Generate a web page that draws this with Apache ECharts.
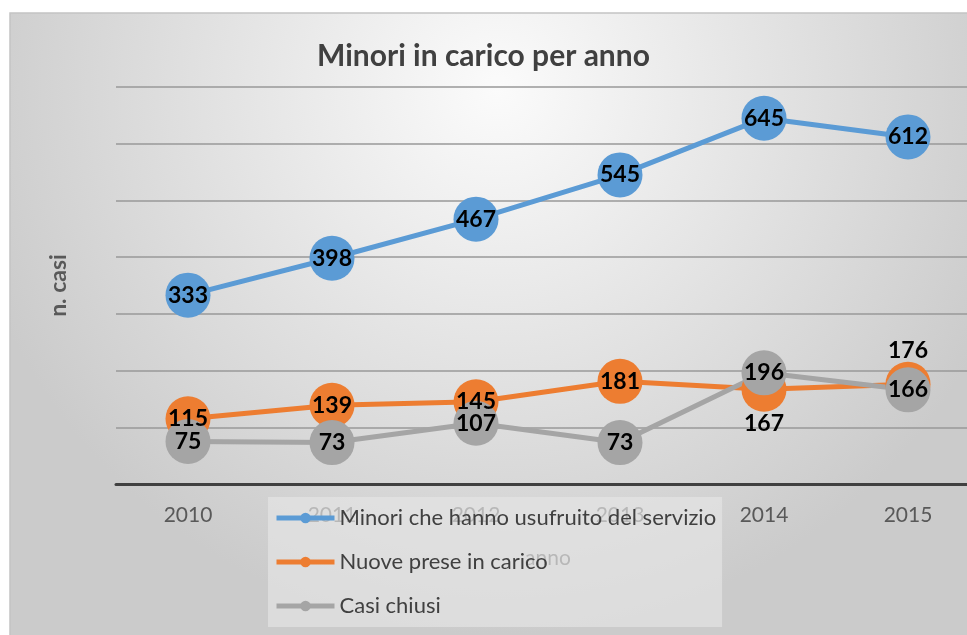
<!DOCTYPE html>
<html>
<head>
<meta charset="utf-8">
<script src="https://cdn.jsdelivr.net/npm/echarts@6/dist/echarts.min.js"></script>
<style>
html,body{margin:0;padding:0;background:#fff;}
#main{width:967px;height:635px;}
</style>
</head>
<body>
<div id="main"></div>
<script>
// dati
var anni = ['2010', '2011', '2012', '2013', '2014', '2015'];
var minoriServizio = [333, 398, 467, 545, 645, 612];
var nuovePrese = [115, 139, 145, 181, 167, 176];
var casiChiusi = [75, 73, 107, 73, 196, 166];
var nomiSerie = ['Minori che hanno usufruito del servizio', 'Nuove prese in carico', 'Casi chiusi'];

var font = 'Lato, "Open Sans", sans-serif';

function serie(nome, valori, colore, posizioni) {
    return {
        name: nome,
        type: 'line',
        data: valori.map(function (v, i) {
            var p = posizioni ? posizioni[i] : 'inside';
            return { value: v, label: { position: p, distance: 0 } };
        }),
        symbol: 'circle',
        symbolSize: 45,
        lineStyle: { width: 5, color: colore },
        itemStyle: { color: colore },
        label: {
            show: true,
            color: '#000',
            fontFamily: font,
            fontWeight: 'bold',
            fontSize: 23
        }
    };
}

var myChart = echarts.init(document.getElementById('main'));
myChart.setOption({
    backgroundColor: '#fff',
    animation: false,
    graphic: [{
        type: 'rect',
        z: -100,
        shape: { x: 10, y: 13, width: 975, height: 640 },
        style: {
            fill: {
                type: 'radial', x: 0.5, y: 0.12, r: 0.85,
                colorStops: [
                    { offset: 0, color: '#fbfbfb' },
                    { offset: 1, color: '#cbcbcb' }
                ]
            },
            stroke: '#c4c4c4',
            lineWidth: 1.5
        }
    }],
    title: {
        text: 'Minori in carico per anno',
        left: 'center',
        top: 36,
        textStyle: { fontFamily: font, fontSize: 30, fontWeight: 'bold', color: '#404040' }
    },
    legend: {
        data: nomiSerie,
        orient: 'vertical',
        left: 268,
        top: 497,
        z: 10,
        padding: [10, 6, 10, 6],
        itemWidth: 58,
        itemHeight: 13,
        itemGap: 22,
        lineStyle: { width: 5 },
        backgroundColor: 'rgba(228,228,228,0.68)',
        textStyle: { fontFamily: font, fontSize: 22, color: '#404040' }
    },
    grid: {
        left: 116,
        right: -13,
        top: 87,
        bottom: 151,
        containLabel: false,
        outerBoundsMode: 'none'
    },
    xAxis: {
        type: 'category',
        data: anni,
        name: 'anno',
        nameLocation: 'middle',
        nameGap: 64,
        nameTextStyle: { fontFamily: font, fontSize: 21, color: '#595959' },
        axisLine: { lineStyle: { color: '#404040', width: 3 } },
        axisTick: { show: false },
        axisLabel: { fontFamily: font, fontSize: 21, color: '#595959', margin: 21 }
    },
    yAxis: {
        type: 'value',
        min: 0,
        max: 700,
        interval: 100,
        name: 'n. casi',
        nameLocation: 'middle',
        nameGap: 46,
        nameRotate: 90,
        nameTextStyle: { fontFamily: font, fontSize: 23, fontWeight: 'bold', color: '#595959' },
        axisLabel: { show: false },
        axisLine: { show: false },
        axisTick: { show: false },
        splitLine: { lineStyle: { color: '#999999', width: 1.5 } }
    },
    series: [
        serie(nomiSerie[0], minoriServizio, '#5B9BD5'),
        serie(nomiSerie[1], nuovePrese, '#ED7D31', ['inside', 'inside', 'inside', 'inside', 'bottom', 'top']),
        serie(nomiSerie[2], casiChiusi, '#A5A5A5')
    ]
});
</script>
</body>
</html>
